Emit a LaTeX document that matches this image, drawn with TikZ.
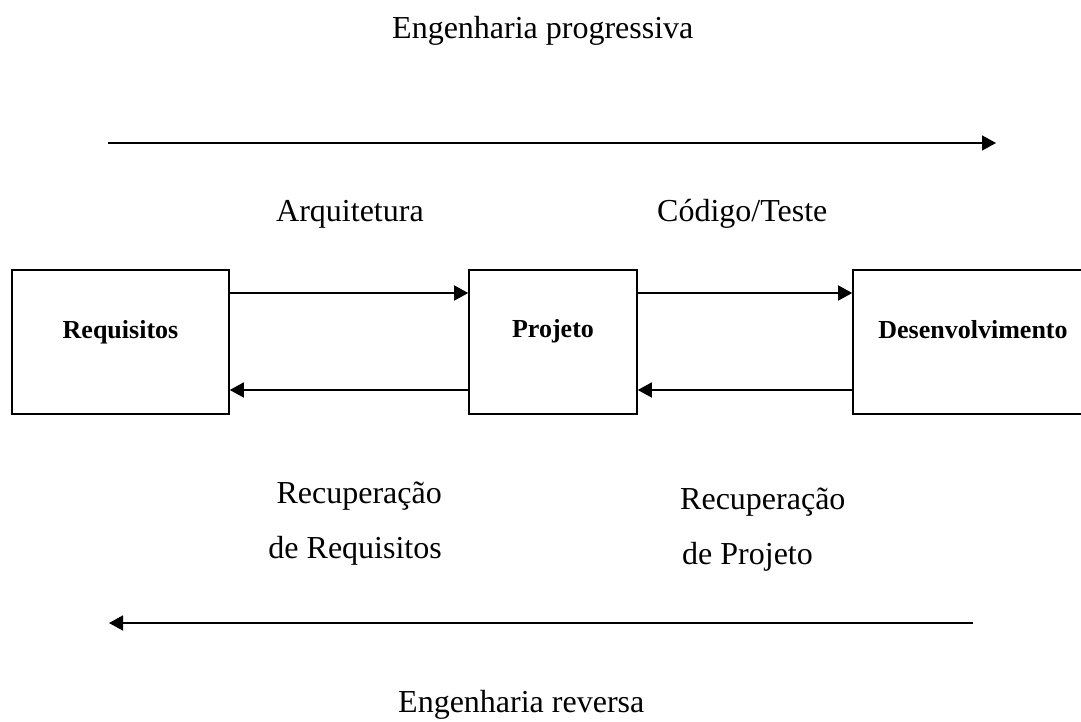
\documentclass[tikz,border=0pt]{standalone}
\usepackage{fontspec}
\setmainfont{Liberation Serif}
\usetikzlibrary{arrows.meta}
\begin{document}
\begin{tikzpicture}[x=1pt,y=-1pt,
  lw/.style={line width=1.6pt},
  arr/.style={lw,-{Triangle[length=14pt,width=15pt]}},
  boxn/.style={draw,lw,minimum height=144pt,inner sep=0pt},
  boldlbl/.style={inner sep=0pt,anchor=base,font=\fontsize{26}{30}\selectfont\bfseries},
  lbl/.style={inner sep=0pt,font=\fontsize{32}{36}\selectfont}]
\useasboundingbox (0,0) rectangle (1081,722);
\clip (0,0) rectangle (1081,722);
% boxes
\node[boxn,minimum width=217pt] (req) at (120.5,342) {};
\node[boxn,minimum width=168pt] (proj) at (553,342) {};
\node[boxn,minimum width=240pt] (dev) at (973,342) {};
\node[boldlbl] (reqt) at (120.5,338) {Requisitos};
\node[boldlbl] (projt) at (553,337) {Projeto};
\node[boldlbl] (devt) at (973,338) {Desenvolvimento};
% arrows between boxes
\draw[arr] (req.east |- 0,293) -- (proj.west |- 0,293);
\draw[arr] (proj.west |- 0,390) -- (req.east |- 0,390);
\draw[arr] (proj.east |- 0,293) -- (dev.west |- 0,293);
\draw[arr] (dev.west |- 0,390) -- (proj.east |- 0,390);
% long arrows
\coordinate (fs) at (108,143);
\coordinate (fe) at (996,143);
\coordinate (rs) at (973,623);
\coordinate (re) at (109,623);
\draw[arr] (fs) -- (fe);
\draw[arr] (rs) -- (re);
% labels
\node[lbl,anchor=base west] (prog) at (392,39) {Engenharia progressiva};
\node[lbl,anchor=base west] (arq) at (276,222) {Arquitetura};
\node[lbl,anchor=base west] (cod) at (657,222) {Código/Teste};
\node[lbl,anchor=base east] (rr1) at (442,503) {Recuperação};
\node[lbl,anchor=base east] (rr2) at (442,558) {de Requisitos};
\node[lbl,anchor=base west] (rp1) at (680,509) {Recuperação};
\node[lbl,anchor=base west] (rp2) at (682,564) {de Projeto};
\node[lbl,anchor=base west] (rev) at (398,712) {Engenharia reversa};
\end{tikzpicture}
\end{document}
